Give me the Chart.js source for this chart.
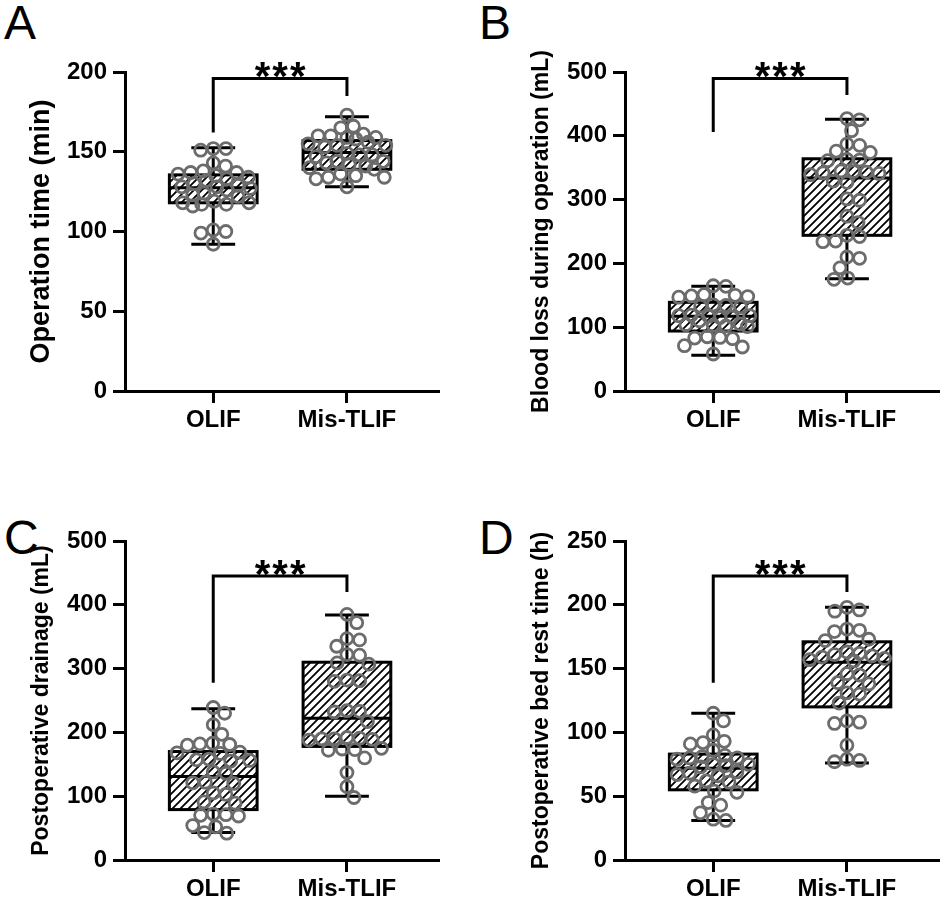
<!DOCTYPE html>
<html>
<head>
<meta charset="utf-8">
<script src="https://cdn.jsdelivr.net/npm/chart.js@4.4.1/dist/chart.umd.min.js"></script>
<style>
  body { margin: 0; width: 948px; height: 906px; background: #fff; position: relative; overflow: hidden; font-family: "Liberation Sans", Arial, sans-serif; }
  .panel { position: absolute; width: 448px; height: 437px; }
  .letter { position: absolute; font-size: 48px; line-height: 1; color: #000; }
</style>
</head>
<body>
<div class="letter" style="left:4px;top:-1px">A</div>
<div class="letter" style="left:479px;top:-1px">B</div>
<div class="letter" style="left:4px;top:514px">C</div>
<div class="letter" style="left:479px;top:514px">D</div>
<div class="panel" style="left:0;top:0"><canvas id="chartA"></canvas></div>
<div class="panel" style="left:500px;top:0"><canvas id="chartB"></canvas></div>
<div class="panel" style="left:0;top:469px"><canvas id="chartC"></canvas></div>
<div class="panel" style="left:500px;top:469px"><canvas id="chartD"></canvas></div>
<script>
const groups = ['OLIF', 'Mis-TLIF'];

// A - operation time (min)
const timeOlif = [152, 151, 152, 143, 141, 137, 136, 137, 135, 138, 133, 132, 134, 128, 127, 129, 128, 126, 130, 123, 122, 124, 117, 118, 116, 117, 119, 118, 100, 99, 101, 92];
const timeTlif = [173, 165, 166, 160, 159, 160, 161, 158, 159, 154, 155, 153, 154, 156, 148, 149, 147, 148, 144, 143, 142, 144, 140, 139, 141, 134, 135, 133, 134, 136, 128];
const timeBox = [[92, 118, 127.5, 135.5, 152.5], [128, 139, 149.5, 157, 172]]; // min, q1, median, q3, max
const timeTicks = [0, 50, 100, 150, 200];
const timeBracket = [162, 196, 185]; // left leg, bar, right leg

// B - blood loss (mL)
const bloodOlif = [165, 164, 150, 148, 149, 151, 147, 134, 132, 133, 135, 118, 116, 117, 119, 115, 118, 104, 102, 103, 105, 101, 84, 82, 85, 83, 71, 69, 58, 110];
const bloodTlif = [427, 425, 408, 387, 385, 376, 374, 362, 363, 361, 344, 342, 345, 343, 341, 339, 329, 327, 301, 299, 274, 264, 244, 242, 234, 235, 210, 208, 193, 177, 175];
const bloodBox = [[56, 94, 117, 139, 164], [176, 244, 334, 364, 426]];
const bloodTicks = [0, 100, 200, 300, 400, 500];
const bloodBracket = [406, 490, 464];

// C - postoperative drainage (mL)
const drainOlif = [239, 230, 212, 197, 183, 181, 182, 180, 169, 168, 167, 158, 156, 157, 155, 138, 136, 121, 122, 120, 105, 103, 91, 89, 72, 70, 71, 69, 54, 52, 43, 42];
const drainTlif = [385, 372, 347, 345, 335, 322, 321, 309, 307, 282, 280, 281, 234, 232, 233, 217, 191, 190, 189, 192, 188, 190, 174, 173, 172, 175, 160, 137, 115, 98];
const drainBox = [[43, 79, 131, 170, 237], [100, 178, 222, 310, 384]];
const drainTicks = [0, 100, 200, 300, 400, 500];
const drainBracket = [278, 445, 420];

// D - bed rest time (h)
const restOlif = [115, 109, 98, 93, 91, 92, 81, 80, 79, 80, 82, 75, 74, 73, 75, 68, 67, 69, 66, 61, 54, 53, 45, 43, 37, 31, 32, 86, 62, 58];
const restTlif = [198, 195, 196, 181, 180, 179, 173, 172, 162, 161, 160, 163, 159, 157, 156, 158, 145, 146, 138, 139, 130, 131, 123, 108, 109, 107, 90, 78, 77, 79];
const restBox = [[31, 55, 72, 83, 115], [76, 120, 155, 171, 198]];
const restTicks = [0, 50, 100, 150, 200, 250];
const restBracket = [139, 222.5, 210];

const XMIN = 0.34, XMAX = 2.69;
const PLOT_W = 322, PLOT_H = 319;
const DOT = 13;   // swarm spacing in px
const SPREAD = 40; // max sideways shift in px

// hatch tile for the boxes
const tile = document.createElement('canvas');
tile.width = 8; tile.height = 8;
(function () {
  const g = tile.getContext('2d');
  g.fillStyle = '#fff';
  g.fillRect(0, 0, 8, 8);
  g.strokeStyle = '#000';
  g.lineWidth = 1.8;
  g.beginPath();
  g.moveTo(-2, 10); g.lineTo(10, -2);
  g.moveTo(-2, 2); g.lineTo(2, -2);
  g.moveTo(6, 10); g.lineTo(10, 6);
  g.stroke();
})();

// beeswarm with a width cap: returns x offsets in px
function swarm(values, ypx) {
  const order = values.map((v, i) => i).sort((a, b) => values[b] - values[a]);
  const placed = [];
  const out = [];
  order.forEach(i => {
    const py = values[i] * ypx;
    const near = placed.filter(p => Math.abs(p.y - py) < DOT);
    let cands = [0];
    near.forEach(p => {
      const dx = Math.sqrt(DOT * DOT - (p.y - py) ** 2);
      cands.push(p.x + dx, p.x - dx);
    });
    for (let s = 7; s <= SPREAD; s += 7) cands.push(s, -s);
    cands = cands.filter(c => Math.abs(c) <= SPREAD);
    cands.sort((a, b) => Math.abs(a) - Math.abs(b));
    const gap = c => Math.min(Infinity, ...near.map(p => Math.hypot(p.x - c, p.y - py)));
    let x = cands.find(c => gap(c) >= DOT - 0.01);
    if (x === undefined) x = cands.reduce((b, c) => (gap(c) > gap(b) + 0.5 ? c : b), cands[0]);
    placed.push({ x: x, y: py });
    out[i] = x;
  });
  return out;
}

function points(values, pos, ymax) {
  const xppu = PLOT_W / (XMAX - XMIN);
  const off = swarm(values, PLOT_H / ymax);
  return values.map((v, k) => ({ x: pos + off[k] / xppu, y: v }));
}

const boxPlugin = {
  id: 'boxes',
  beforeDatasetsDraw(chart, args, opts) {
    const { ctx, scales: { x, y } } = chart;
    const pattern = ctx.createPattern(tile, 'repeat');
    ctx.save();
    ctx.strokeStyle = '#000';
    ctx.lineWidth = 3;
    opts.stats.forEach((s, i) => {
      const cx = x.getPixelForValue(i + 1);
      const hw = x.getPixelForValue(i + 1.328) - cx;
      const [lo, q1, med, q3, hi] = s.map(v => y.getPixelForValue(v));
      ctx.beginPath();
      ctx.moveTo(cx, q3); ctx.lineTo(cx, hi);
      ctx.moveTo(cx - hw / 2, hi); ctx.lineTo(cx + hw / 2, hi);
      ctx.moveTo(cx, q1); ctx.lineTo(cx, lo);
      ctx.moveTo(cx - hw / 2, lo); ctx.lineTo(cx + hw / 2, lo);
      ctx.stroke();
      ctx.fillStyle = pattern;
      ctx.fillRect(cx - hw, q3, hw * 2, q1 - q3);
      ctx.strokeRect(cx - hw, q3, hw * 2, q1 - q3);
      ctx.beginPath();
      ctx.moveTo(cx - hw, med); ctx.lineTo(cx + hw, med);
      ctx.stroke();
    });
    // significance bracket
    const [l, top, r] = opts.bracket.map(v => y.getPixelForValue(v));
    const x1 = x.getPixelForValue(1), x2 = x.getPixelForValue(2);
    ctx.beginPath();
    ctx.moveTo(x1, l); ctx.lineTo(x1, top); ctx.lineTo(x2, top); ctx.lineTo(x2, r);
    ctx.stroke();
    ctx.fillStyle = '#000';
    ctx.font = 'bold 40px "Liberation Sans", Arial, sans-serif';
    ctx.letterSpacing = '2px';
    ctx.textAlign = 'center';
    ctx.textBaseline = 'alphabetic';
    ctx.fillText('***', (x1 + x2) / 2 + 1, top + 12);
    ctx.restore();
  }
};

const font = { family: '"Liberation Sans", Arial, sans-serif', size: 24, weight: 'bold' };

function makeChart(id, olif, tlif, box, ticks, bracket, title, titleSize) {
  const ymax = ticks[ticks.length - 1];
  const titleFont = { family: font.family, size: titleSize, weight: 'bold' };
  const dots = {
    type: 'scatter',
    pointRadius: 6,
    pointBorderWidth: 2.8,
    pointBorderColor: '#6c6c6c',
    pointBackgroundColor: 'rgba(0,0,0,0)',
    pointHoverRadius: 6
  };
  new Chart(document.getElementById(id), {
    type: 'scatter',
    data: {
      datasets: [
        Object.assign({ label: groups[0], data: points(olif, 1, ymax) }, dots),
        Object.assign({ label: groups[1], data: points(tlif, 2, ymax) }, dots)
      ]
    },
    options: {
      responsive: true,
      maintainAspectRatio: false,
      animation: false,
      layout: { padding: { top: 72, right: 1, left: 0, bottom: 0 } },
      plugins: {
        legend: { display: false },
        tooltip: { enabled: false },
        boxes: { stats: box, bracket: bracket }
      },
      scales: {
        x: {
          type: 'linear',
          min: XMIN,
          max: XMAX,
          afterBuildTicks: s => { s.ticks = [{ value: 1 }, { value: 2 }]; },
          afterFit: s => { s.height = 46; },
          ticks: { callback: v => groups[v - 1], font: font, color: '#000', padding: 3, maxRotation: 0 },
          grid: { drawOnChartArea: false, tickLength: 12, tickWidth: 3, tickColor: '#000' },
          border: { color: '#000', width: 3 }
        },
        y: {
          min: 0,
          max: ymax,
          afterBuildTicks: s => { s.ticks = ticks.map(v => ({ value: v })); },
          afterFit: s => { s.width = 125; },
          ticks: { font: font, color: '#000', padding: 6 },
          grid: { drawOnChartArea: false, tickLength: 12, tickWidth: 3, tickColor: '#000' },
          border: { color: '#000', width: 3 },
          title: { display: true, text: title, font: titleFont, color: '#000', padding: { top: 42 - titleSize * 0.6 } }
        }
      }
    },
    plugins: [boxPlugin]
  });
}

makeChart('chartA', timeOlif, timeTlif, timeBox, timeTicks, timeBracket, 'Operation time (min)', 27);
makeChart('chartB', bloodOlif, bloodTlif, bloodBox, bloodTicks, bloodBracket, 'Blood loss during operation (mL)', 23);
makeChart('chartC', drainOlif, drainTlif, drainBox, drainTicks, drainBracket, 'Postoperative drainage (mL)', 23);
makeChart('chartD', restOlif, restTlif, restBox, restTicks, restBracket, 'Postoperative bed rest time (h)', 23);
</script>
</body>
</html>
